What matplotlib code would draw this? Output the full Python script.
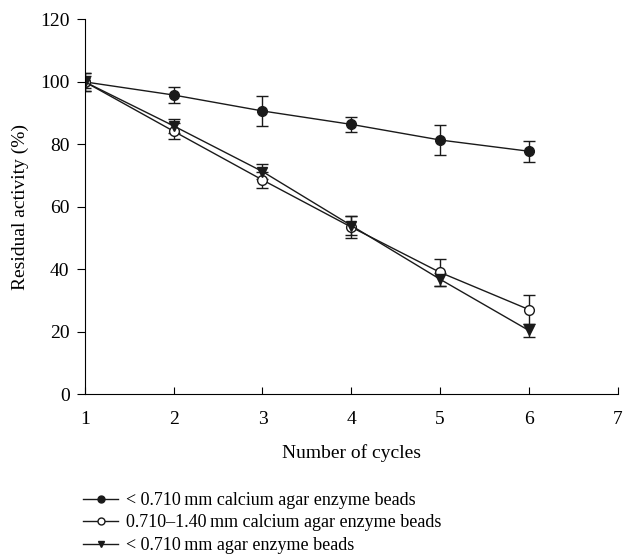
import numpy as np
import matplotlib
matplotlib.use('Agg')
import matplotlib.pyplot as plt

plt.rcParams['font.family'] = ['Liberation Serif', 'DejaVu Serif']

# Data
cycles = [1, 2, 3, 4, 5, 6]
ca_small = [100, 95.8, 90.7, 86.4, 81.4, 77.8]
ca_small_err = [3.0, 2.7, 4.7, 2.5, 4.8, 3.4]
ca_mid = [100, 84.2, 68.6, 53.5, 39.0, 27.1]
ca_mid_err = [3.0, 2.5, 2.6, 3.5, 4.2, 4.6]
agar_small = [100, 85.9, 71.3, 54.0, 36.8, 20.4]
agar_small_err = [2.0, 2.2, 2.5, 3.0, 2.0, 2.0]

labels = ['< 0.710\u2009mm calcium agar enzyme beads',
          '0.710\u20131.40\u2009mm calcium agar enzyme beads',
          '< 0.710\u2009mm agar enzyme beads']

fig = plt.figure(figsize=(6.24, 5.56), dpi=100)
ax = fig.add_axes([0.136, 0.291, 0.854, 0.674])

kw = dict(color='#1a1a1a', lw=1.0, capsize=4, elinewidth=1.0, capthick=1.0, markersize=7)
ax.errorbar(cycles, ca_small, yerr=ca_small_err, fmt='-o', mfc='#1a1a1a', mec='#1a1a1a', **kw)
ax.errorbar(cycles, ca_mid, yerr=ca_mid_err, fmt='-o', mfc='white', mec='#1a1a1a', **kw)
ax.errorbar(cycles, agar_small, yerr=agar_small_err, fmt='-v', mfc='#1a1a1a', mec='#1a1a1a', **kw)

ax.set_xlim(1, 7)
ax.set_ylim(0, 120)
ax.set_xticks(range(1, 8))
ax.set_yticks(range(0, 121, 20))
ax.spines['top'].set_visible(False)
ax.spines['right'].set_visible(False)
ax.tick_params(axis='x', direction='in', length=5, labelsize=14, pad=12)
ax.tick_params(axis='y', direction='out', length=6, labelsize=14, pad=5)
ax.set_xlabel('Number of cycles', fontsize=14, labelpad=12)
ax.set_ylabel('Residual activity (%)', fontsize=14, labelpad=8)

# legend below the axes
handles = [plt.Line2D([], [], color='#1a1a1a', lw=1.0, marker='o', mfc='#1a1a1a', markersize=5),
           plt.Line2D([], [], color='#1a1a1a', lw=1.0, marker='o', mfc='white', markersize=5),
           plt.Line2D([], [], color='#1a1a1a', lw=1.0, marker='v', mfc='#1a1a1a', markersize=5)]
fig.legend(handles, labels, loc='upper left', bbox_to_anchor=(0.122, 0.128), frameon=False,
           fontsize=13, handlelength=1.9, handletextpad=0.45, labelspacing=0.3, borderaxespad=0)

fig.savefig('out.png', dpi=100)
